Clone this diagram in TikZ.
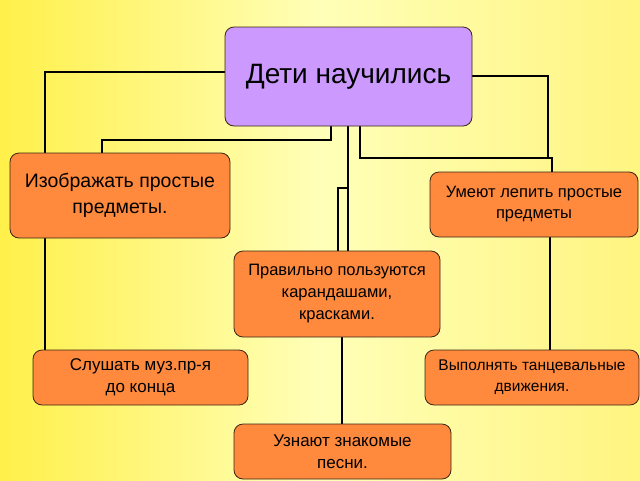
\documentclass[tikz,border=0pt]{standalone}
\usepackage{fontspec}
\setmainfont{Liberation Sans}
\begin{document}
\begin{tikzpicture}[x=1pt,y=-1pt,
  box/.style={draw=black!70!brown,line width=0.8pt,rounded corners=9pt,fill=bxor,align=center,inner sep=0pt},
  conn/.style={line width=1.5pt,black}]
\definecolor{bxor}{HTML}{FF8A3D}
\definecolor{bgy}{HTML}{FFF04A}
\definecolor{bgp}{HTML}{FFFFB8}
\definecolor{topc}{HTML}{CC99FF}
\shade[left color=bgy, right color=bgy!70!white, middle color=bgp] (0,0) rectangle (640,480);
\useasboundingbox (0,0) rectangle (640,480);
\draw[conn] (225,72) -- (45,72) -- (45,153);
\draw[conn] (45,238) -- (45,350);
\draw[conn] (331,126) -- (331,140) -- (102,140) -- (102,153);
\draw[conn] (348,126) -- (348,251);
\draw[conn] (348,188) -- (338,188) -- (338,251);
\draw[conn] (360,126) -- (360,158) -- (552,158) -- (552,172);
\draw[conn] (472,76) -- (548,76) -- (548,158);
\draw[conn] (550,237) -- (550,350);
\draw[conn] (342,337) -- (342,424);
\node[box,fill=topc,minimum width=247pt,minimum height=99pt,font=\fontsize{28}{32}\selectfont] (top) at (348.5,76.5) {Дети научились};
\node[box,minimum width=220pt,minimum height=85pt,font=\fontsize{19.5}{26}\selectfont] (izo) at (120,195.5) {Изображать простые\\предметы.};
\node[box,minimum width=208pt,minimum height=65pt,font=\fontsize{16.5}{21}\selectfont] (lep) at (534,204.5) {Умеют лепить простые\\предметы};
\node[box,minimum width=206pt,minimum height=86pt,font=\fontsize{16.5}{22}\selectfont] (kar) at (337,294) {Правильно пользуются\\карандашами,\\красками.};
\node[box,minimum width=215pt,minimum height=55pt,font=\fontsize{17}{22}\selectfont] (slu) at (140.5,377.5) {Слушать муз.пр-я\\до конца};
\node[box,minimum width=214pt,minimum height=55pt,font=\fontsize{15.5}{21}\selectfont] (tan) at (532,377.5) {Выполнять танцевальные\\движения.};
\node[box,minimum width=217pt,minimum height=55pt,font=\fontsize{17}{22}\selectfont] (uzn) at (342.5,451.5) {Узнают знакомые\\песни.};
\end{tikzpicture}
\end{document}
